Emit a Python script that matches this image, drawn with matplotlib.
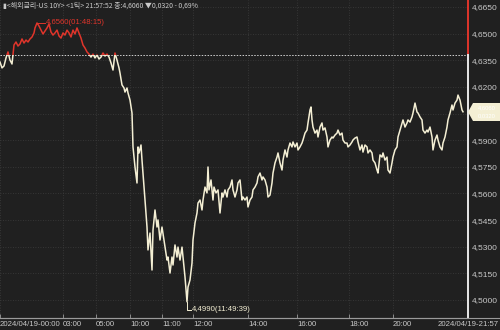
import matplotlib

matplotlib.use("Agg")
import matplotlib.pyplot as plt
import numpy as np
from matplotlib.lines import Line2D
from matplotlib.patches import Polygon, Rectangle
from matplotlib.ticker import FuncFormatter

# tick index (position along the trading-time axis) and 10Y yield
TICK_IDX = [
    0, 2, 4, 6, 8, 10, 12, 14, 16, 18, 20, 22, 24, 26, 28, 30, 32, 34, 35, 37,
    39, 41, 43, 45, 47, 49, 51, 53, 55, 57, 59, 61, 63, 65, 67, 69, 71, 73, 75, 77,
    79, 81, 83, 85, 87, 89, 91, 93, 95, 97, 99, 101, 103, 105, 107, 109, 111, 113, 115, 117,
    119, 120, 122, 124, 125, 127, 128, 130, 132, 133, 135, 137, 138, 139, 141, 142, 143, 145, 147, 148,
    150, 152, 153, 155, 157, 158, 160, 162, 165, 167, 168, 170, 172, 173, 175, 177, 178, 180, 182, 183,
    185, 187, 188, 190,
    192, 193, 195, 197, 198, 200, 202, 203, 205, 207, 208, 209, 211, 213, 214, 216, 218, 220, 222, 223,
    225, 227, 228, 230, 232, 233, 235, 237, 238, 240, 242, 243, 245, 247, 248, 250, 252, 253, 255, 257,
    258, 260, 262, 263, 265, 267, 268, 270, 272, 273, 275, 277, 278, 280, 282, 283, 285, 287, 288, 290,
    292, 293, 295, 297, 298, 300, 302, 303, 305, 307, 308, 310, 311, 312, 313, 315, 317, 318, 320, 322,
    323, 325, 327, 328, 330, 332, 333, 335, 337, 338, 340, 342, 343, 345, 347, 348, 350, 352, 353, 355,
    357, 358, 360, 362, 363, 365, 367, 368, 370, 372, 373, 375, 377, 378, 380, 382, 383, 385, 387, 388,
    390, 392, 393, 395, 397, 398, 400, 402, 403, 405, 407, 408, 410, 412, 413, 415, 417, 418, 420, 422,
    423, 425, 427, 428, 430, 432, 433, 435, 437, 438, 440, 442, 443, 445, 447, 448, 450, 452, 453, 455,
    457, 458, 460, 462, 463,
]
YIELDS = [
    4.6340, 4.6307, 4.6318, 4.6363, 4.6397, 4.6351, 4.6329, 4.6436, 4.6453, 4.6430,
    4.6442, 4.6470, 4.6447, 4.6464, 4.6453, 4.6470, 4.6481, 4.6504, 4.6532, 4.6560,
    4.6543, 4.6520, 4.6498, 4.6515, 4.6532, 4.6554, 4.6509, 4.6492, 4.6504, 4.6520,
    4.6487, 4.6475, 4.6504, 4.6492, 4.6520, 4.6504, 4.6481, 4.6520, 4.6498, 4.6532,
    4.6504, 4.6475, 4.6436, 4.6419, 4.6397, 4.6385, 4.6368, 4.6385, 4.6363, 4.6380,
    4.6357, 4.6368, 4.6391, 4.6374, 4.6385, 4.6368, 4.6335, 4.6295, 4.6391, 4.6351,
    4.6307, 4.6278, 4.6211, 4.6194, 4.6171, 4.6194, 4.6166, 4.6126, 4.6053, 4.5862,
    4.5749, 4.5659, 4.5862, 4.5828, 4.5873, 4.5788, 4.5715, 4.5563, 4.5411, 4.5282,
    4.5377, 4.5169, 4.5394, 4.5507, 4.5411, 4.5451, 4.5338, 4.5411, 4.5298, 4.5225,
    4.5242, 4.5152, 4.5242, 4.5197, 4.5310, 4.5242, 4.5298, 4.5225, 4.5298, 4.5242,
    4.5130, 4.4990, 4.5073, 4.5113,
    4.5208, 4.5338, 4.5434, 4.5490, 4.5546, 4.5563, 4.5507, 4.5563, 4.5636, 4.5603,
    4.5749, 4.5620, 4.5676, 4.5563, 4.5636, 4.5603, 4.5620, 4.5490, 4.5603, 4.5580,
    4.5620, 4.5580, 4.5620, 4.5636, 4.5676, 4.5620, 4.5580, 4.5620, 4.5659, 4.5676,
    4.5563, 4.5580, 4.5563, 4.5580, 4.5524, 4.5563, 4.5580, 4.5620, 4.5636, 4.5659,
    4.5693, 4.5715, 4.5676, 4.5693, 4.5676, 4.5636, 4.5580, 4.5591, 4.5659, 4.5715,
    4.5772, 4.5805, 4.5828, 4.5772, 4.5732, 4.5788, 4.5845, 4.5805, 4.5845, 4.5884,
    4.5862, 4.5890, 4.5862, 4.5884, 4.5845, 4.5862, 4.5884, 4.5901, 4.5940, 4.5957,
    4.5997, 4.6070, 4.6087, 4.6014, 4.5974, 4.5940, 4.5957, 4.5918, 4.5974, 4.5997,
    4.5957, 4.5969, 4.5918, 4.5862, 4.5901, 4.5918, 4.5912, 4.5929, 4.5940, 4.5957,
    4.5929, 4.5940, 4.5901, 4.5884, 4.5884, 4.5862, 4.5873, 4.5890, 4.5901, 4.5912,
    4.5918, 4.5890, 4.5845, 4.5873, 4.5833, 4.5873, 4.5862, 4.5828, 4.5845, 4.5828,
    4.5788, 4.5772, 4.5732, 4.5715, 4.5817, 4.5805, 4.5828, 4.5788, 4.5805, 4.5732,
    4.5715, 4.5772, 4.5805, 4.5845, 4.5862, 4.5918, 4.5957, 4.5997, 4.6014, 4.5974,
    4.5997, 4.6014, 4.6002, 4.6031, 4.6053, 4.6109, 4.6059, 4.6053, 4.6031, 4.6014,
    4.5957, 4.5940, 4.5957, 4.5946, 4.5974, 4.5918, 4.5845, 4.5901, 4.5929, 4.5901,
    4.5862, 4.5845, 4.5884, 4.5918, 4.5974, 4.6014, 4.6053, 4.6098, 4.6070, 4.6109,
    4.6126, 4.6154, 4.6126, 4.6070, 4.6060,
]

PREV_CLOSE = 4.6380
LAST = 4.6060
CHANGE = -0.0320
HIGH_LABEL = "01:48:15"
LOW_LABEL = "11:49:39"

X_TICKS = [0, 63, 96, 130, 162, 193, 248, 297, 349, 393]
X_LABELS = ["2024/04/19-00:00", "03:00", "05:00", "10:00", "11:00", "12:00",
            "14:00", "16:00", "18:00", "20:00"]
END_LABEL = "2024/04/19-21:57"
Y_TICKS = [4.6650, 4.6500, 4.6350, 4.6200, 4.6050, 4.5900, 4.5750, 4.5600,
           4.5450, 4.5300, 4.5150, 4.5000]
TITLE = "▮<해외금리-US 10Y> <1틱> 21:57:52 종:4,6060 ▼0,0320 - 0,69%"

BG = "#202020"
RED = "#e0352b"
CREAM = "#f4efd4"
TEXT = "#c9c9c9"
GRID = "#3d3d3d"
NARROW = ["Liberation Sans Narrow", "Liberation Sans", "DejaVu Sans"]

W, H = 500, 330
X_MAX = 468
Y_LO, Y_HI = 4.48987, 4.66894


def comma(v, _pos=None):
    return f"{v:.4f}".replace(".", ",")


def axis_label(v, _pos=None):
    # the tick level under the last-price flag is hidden by the flag
    if abs(v - 4.6050) < 1e-6:
        return ""
    return comma(v)


def main() -> None:
    fig = plt.figure(figsize=(W / 100, H / 100), dpi=100, facecolor=BG)
    ax = fig.add_axes([0, 12 / H, X_MAX / W, 318 / H])
    ax.set_facecolor(BG)
    x = np.array(TICK_IDX)
    y = np.array(YIELDS)

    ax.set_xlim(0, X_MAX)
    ax.set_ylim(Y_LO, Y_HI)

    # split colour: red above previous close, cream below
    above = ax.plot(x, y, color=RED, lw=1.1, zorder=3)[0]
    below = ax.plot(x, y, color=CREAM, lw=1.1, zorder=3)[0]
    clip_up = Rectangle((0, PREV_CLOSE), X_MAX, Y_HI - PREV_CLOSE, transform=ax.transData)
    clip_dn = Rectangle((0, Y_LO), X_MAX, PREV_CLOSE - Y_LO, transform=ax.transData)
    above.set_clip_path(clip_up)
    below.set_clip_path(clip_dn)

    ax.axhline(PREV_CLOSE, color="#d0d0d0", lw=0.7, ls=(0, (1.5, 1.5)), zorder=2)

    # grid
    ax.set_yticks(Y_TICKS)
    ax.set_xticks(X_TICKS)
    ax.grid(True, color=GRID, lw=0.6, ls=(0, (1, 2)), zorder=1)

    ax.yaxis.tick_right()
    ax.yaxis.set_major_formatter(FuncFormatter(axis_label))
    ax.tick_params(axis="y", length=0, pad=3, labelsize=6, labelcolor=TEXT)
    ax.set_xticklabels(X_LABELS)
    ax.tick_params(axis="x", direction="in", length=3, width=0.6, color="#9a9a9a",
                   pad=2, labelsize=5.6, labelcolor=TEXT)
    for lab in ax.get_xticklabels() + ax.get_yticklabels():
        lab.set_family(NARROW)
        lab.set_horizontalalignment("left")

    for side in ("top", "left", "right"):
        ax.spines[side].set_visible(False)
    ax.spines["bottom"].set_color("#9a9a9a")
    ax.spines["bottom"].set_linewidth(0.8)
    fig.add_artist(Line2D([0, 1], [12 / H, 12 / H], color="#9a9a9a", lw=0.8,
                          transform=fig.transFigure))

    # right price axis line, red above previous close
    frac = (PREV_CLOSE - Y_LO) / (Y_HI - Y_LO)
    ax.axvline(X_MAX, ymin=frac, ymax=1, color=RED, lw=1.4, clip_on=False, zorder=4)
    ax.axvline(X_MAX, ymin=0, ymax=frac, color="#e8e8e8", lw=1.4, clip_on=False, zorder=4)

    # high / low annotations
    i_hi = int(np.argmax(y))
    i_lo = int(np.argmin(y))
    ax.plot([x[i_hi], x[i_hi] + 8], [y[i_hi], y[i_hi]], color=RED, lw=0.7, zorder=4)
    ax.text(x[i_hi] + 9, y[i_hi], f"{comma(y[i_hi])}({HIGH_LABEL})", color=RED,
            fontsize=5.6, va="center", ha="left", family=NARROW)
    low_y = y[i_lo] - 0.0045
    ax.plot([x[i_lo], x[i_lo], x[i_lo] + 4], [y[i_lo], low_y, low_y],
            color=CREAM, lw=0.7, zorder=4, clip_on=False)
    ax.text(x[i_lo] + 5, low_y, f"{comma(y[i_lo])}({LOW_LABEL})", color=CREAM,
            fontsize=5.6, va="center", ha="left", family=NARROW)

    # last price flag
    yc = 330 - 112
    pts = [(468, yc), (473, yc + 9), (500, yc + 9), (500, yc - 9), (473, yc - 9)]
    fig.add_artist(Polygon([(px / W, py / H) for px, py in pts], closed=True,
                           facecolor=CREAM, edgecolor="none",
                           transform=fig.transFigure, zorder=6))
    fig.text(487 / W, (yc + 4.2) / H, comma(LAST), color="white", fontsize=4.2,
             ha="center", va="center", family=NARROW, zorder=7)
    fig.text(487 / W, (yc - 4.2) / H, comma(abs(CHANGE)), color="white", fontsize=4.2,
             ha="center", va="center", family=NARROW, zorder=7)

    fig.text(499 / W, 6 / H, END_LABEL, color=TEXT, fontsize=5.6, ha="right",
             va="center", family=NARROW)
    fig.text(3 / W, 1 - 6 / H, TITLE, color=TEXT, fontsize=5.0, ha="left",
             va="center", family=["Liberation Sans Narrow", "Noto Sans CJK KR", "DejaVu Sans"])

    fig.savefig("out.png", dpi=100, facecolor=BG)
    plt.close(fig)


if __name__ == "__main__":
    main()
